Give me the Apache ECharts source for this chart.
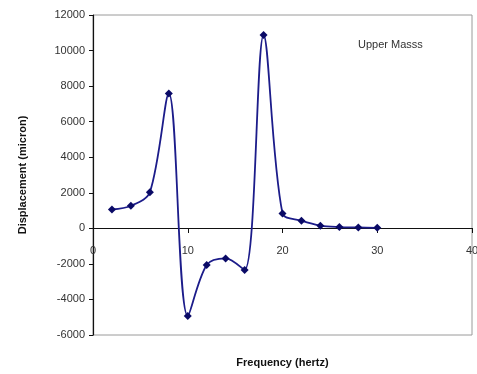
<!DOCTYPE html>
<html><head><meta charset="utf-8">
<script src="https://cdn.jsdelivr.net/npm/echarts@6/dist/echarts.min.js"></script>
<style>html,body{margin:0;padding:0;background:#fff}#c{width:477px;height:374px}</style>
</head><body><div id="c"></div>
<script>
var frequency = [2, 4, 6, 8, 10, 12, 14, 16, 18, 20, 22, 24, 26, 28, 30];
var displacement = [1060, 1270, 2030, 7590, -4930, -2060, -1690, -2340, 10870, 840, 430, 150, 70, 50, 30];
var seriesName = 'Upper Masss';
var xTitle = 'Frequency (hertz)';
var yTitle = 'Displacement (micron)';

var data = frequency.map(function (f, i) { return [f, displacement[i]]; });
var chart = echarts.init(document.getElementById('c'), null, {renderer: 'canvas'});
chart.setOption({
  animation: false,
  grid: {left: 93, top: 15, right: 5, bottom: 39, show: true, borderColor: '#9a9a9a', borderWidth: 1,
         containLabel: false, outerBoundsMode: 'none'},
  xAxis: {
    type: 'value', min: 0, max: 40, interval: 10,
    position: 'bottom', offset: -107,
    name: xTitle, nameLocation: 'middle', nameGap: 129,
    nameTextStyle: {fontFamily: 'Liberation Sans', fontSize: 11, fontWeight: 'bold', color: '#111'},
    axisLine: {onZero: false, lineStyle: {color: '#111', width: 1.2}},
    axisTick: {show: true, length: 5, lineStyle: {color: '#111'}},
    axisLabel: {margin: 17, fontFamily: 'Liberation Sans', fontSize: 11, color: '#333',
                formatter: function (v) { return String(v); }},
    splitLine: {show: false}
  },
  yAxis: {
    type: 'value', min: -6000, max: 12000, interval: 2000,
    name: yTitle, nameLocation: 'middle', nameGap: 65,
    nameTextStyle: {fontFamily: 'Liberation Sans', fontSize: 11, fontWeight: 'bold', color: '#111'},
    axisLine: {show: true, lineStyle: {color: '#111', width: 1.2}},
    axisTick: {show: true, length: 4, lineStyle: {color: '#111'}},
    axisLabel: {margin: 8, fontFamily: 'Liberation Sans', fontSize: 11, color: '#333',
                formatter: function (v) { return String(v); }},
    splitLine: {show: false}
  },
  graphic: [{
    type: 'text', left: 358, top: 39,
    style: {text: seriesName, font: '11px "Liberation Sans"', fill: '#333'}
  }],
  series: [{
    type: 'line', name: seriesName, data: data, smooth: 0.33,
    symbol: 'diamond', symbolSize: 8,
    lineStyle: {color: '#1c1c8a', width: 1.8},
    itemStyle: {color: '#0a0a66'}
  }]
});
</script></body></html>
